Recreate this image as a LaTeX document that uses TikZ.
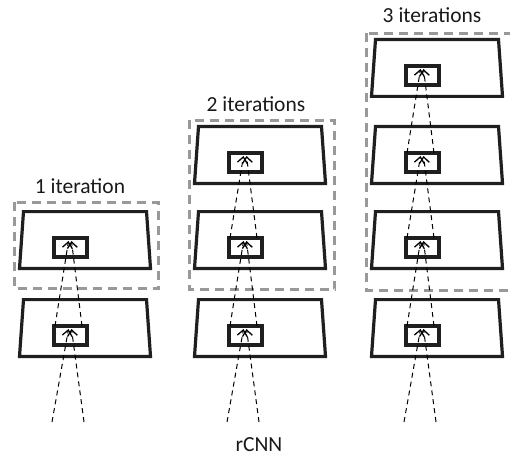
\documentclass[tikz,border=0pt]{standalone}
\usepackage{fontspec}
\setmainfont{Carlito}
\usetikzlibrary{arrows.meta,calc}
\begin{document}
\begin{tikzpicture}[x=1pt,y=-1pt,
  trap/.style={line width=3.2pt, draw=black!88, line join=miter},
  cell/.style={draw=black!88, line width=4pt, minimum width=33pt, minimum height=19pt, inner sep=0pt, outer sep=0pt},
  ray/.style={dash pattern=on 5pt off 4pt, line width=1pt, -{Straight Barb[length=6pt,width=10pt,line width=1.3pt]}},
  group/.style={draw=black!40, line width=2.6pt, dash pattern=on 9pt off 6pt},
  lab/.style={font=\fontsize{21.5}{24}\selectfont, anchor=base, inner sep=0pt, text=black!90}]
\useasboundingbox (0,0) rectangle (510,457);
% grouping boxes
\draw[group] (14.25,202.25) rectangle (158.75,288.75);
\draw[group] (189.25,120.25) rectangle (334.75,289.75);
\draw[group] (366.25,33.25) rectangle (512,290.75);
\foreach \c/\X/\n in {1/85/2,2/260/3,3/437/4}{
  \foreach \l in {1,...,\n}{
    \pgfmathsetmacro\T{{298,210,125,38}[\l-1]}
    \draw[trap] ({\X-61.5},{\T+1.6}) -- ({\X+61.5},{\T+1.6}) -- ({\X+65.5},{\T+58.4}) -- ({\X-65.5},{\T+58.4}) -- cycle;
    \node[cell] (c\c\l) at ({\X-15},{\T+37.5}) {};
    \coordinate (tl\c\l) at ({\X-16.5},{\T+31});
    \coordinate (tr\c\l) at ({\X-13.5},{\T+31});
    \ifnum\l>1
      \pgfmathtruncatemacro\m{\l-1}
      \draw[ray] ($(c\c\m.north west)+(1.5,0)$) -- (tl\c\l);
      \draw[ray] ($(c\c\m.north east)+(-4.5,0)$) -- (tr\c\l);
    \fi
  }
  \coordinate (inl\c) at ({\X-33},422);
  \coordinate (inr\c) at ({\X-1},422);
  \draw[ray] (inl\c) -- (tl\c1);
  \draw[ray] (inr\c) -- (tr\c1);
}
\node[lab] (lab1) at (80,193) {1 iteration};
\node[lab] (lab2) at (256,112) {2 iterations};
\node[lab] (lab3) at (432,23) {3 iterations};
\node[lab] (rcnn) at (259,451) {rCNN};
\end{tikzpicture}
\end{document}
